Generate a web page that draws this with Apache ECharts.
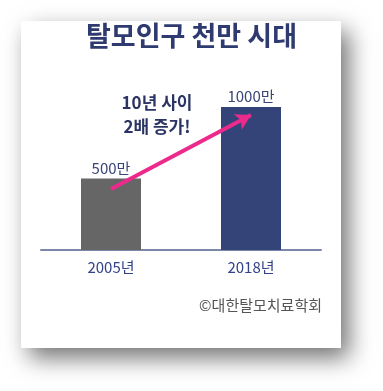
<!DOCTYPE html>
<html><head><meta charset="utf-8">
<script src="https://cdn.jsdelivr.net/npm/echarts@6/dist/echarts.min.js"></script>
<style>html,body{margin:0;padding:0;background:#fff}#c{width:383px;height:391px}</style>
</head><body><div id="c"></div>
<script>
const categories = ['2005년', '2018년'];
const values = [500, 1000];
const valueLabels = ['500만', '1000만'];
const barColors = ['#666666', '#344479'];
const arrowFrom = [0, 427];
const arrowTo = [1, 944];
const titleText = '탈모인구 천만 시대';
const noteLines = ['10년 사이', '2배 증가!'];
const sourceText = '©대한탈모치료학회';

const font = '"Noto Sans CJK KR", "Noto Sans", sans-serif';
const chart = echarts.init(document.getElementById('c'), null, {renderer: 'canvas'});
chart.setOption({
  animation: false,
  backgroundColor: '#ffffff',
  graphic: [
    {type: 'rect', z: -10, shape: {x: 21, y: 21, width: 320, height: 327},
     style: {fill: '#ffffff', shadowBlur: 22, shadowOffsetX: 8, shadowOffsetY: 10, shadowColor: 'rgba(0,0,0,0.55)'}},
    {type: 'text', left: 'center', top: 22, style: {text: titleText, font: 'bold 27px ' + font, fill: '#2e3a70'}},
    {type: 'text', x: 157, y: 91, style: {text: noteLines.join('\n'), font: 'bold 17px ' + font, fill: '#2b3465', align: 'center', lineHeight: 24}},
    {type: 'text', x: 322, y: 298, style: {text: sourceText, font: '15px ' + font, fill: '#555555', align: 'right'}}
  ],
  grid: {left: 41, right: 62, top: 107, bottom: 141},
  xAxis: {
    type: 'category', data: categories,
    axisLine: {lineStyle: {color: '#7d87aa', width: 2}},
    axisTick: {show: false},
    axisLabel: {color: '#34428a', fontSize: 15, fontFamily: font, margin: 10}
  },
  yAxis: {type: 'value', min: 0, max: 1000, show: false, splitLine: {show: false}},
  series: [{
    type: 'bar', barWidth: 60, silent: true,
    data: values.map((v, i) => ({value: v, itemStyle: {color: barColors[i]},
      label: {formatter: valueLabels[i]}})),
    label: {show: true, position: 'top', distance: 3, color: '#3a4577', fontSize: 15, fontFamily: font},
    markLine: {
      silent: true, z: 10,
      symbol: ['none', 'arrow'], symbolSize: [13, 15],
      label: {show: false},
      lineStyle: {color: '#ec2a8b', width: 4, type: 'solid'},
      emphasis: {disabled: true},
      data: [[{coord: arrowFrom}, {coord: arrowTo}]]
    }
  }]
});
</script></body></html>
